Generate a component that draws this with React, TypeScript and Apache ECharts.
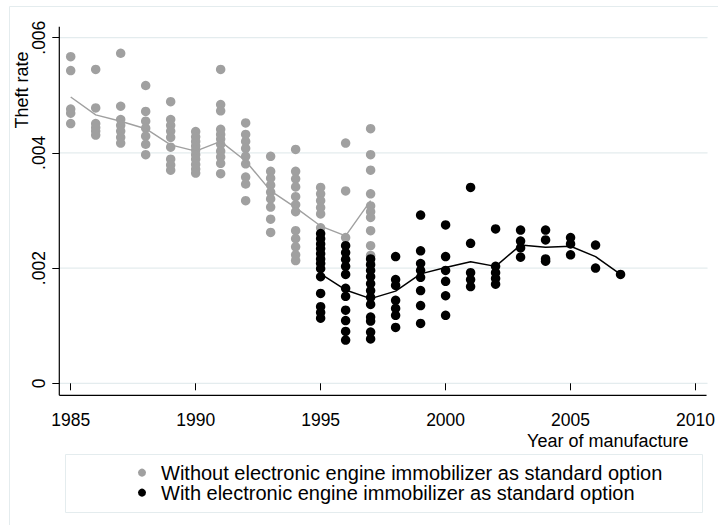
import React, { useEffect, useRef } from "react";
import * as echarts from "echarts";

const FONT = "'Liberation Sans', Arial, sans-serif";
const GRAY = "#a0a0a0";
const BLACK = "#000000";
const FAINT = "#e4ecee";

const xTicks = [1985, 1990, 1995, 2000, 2005, 2010];
const yTicks = [0, 0.002, 0.004, 0.006];

const withoutYears = [1985, 1986, 1987, 1988, 1989, 1990, 1991, 1992, 1993, 1994, 1995, 1996, 1997];
const withoutRates = [
  [0.00567, 0.00543, 0.00476, 0.00469, 0.00451],
  [0.00545, 0.00478, 0.00451, 0.00444, 0.00438, 0.00431],
  [0.00573, 0.00481, 0.00458, 0.00448, 0.00438, 0.00427, 0.00417],
  [0.00517, 0.00472, 0.00455, 0.00443, 0.00429, 0.00415, 0.00397],
  [0.00489, 0.00458, 0.00448, 0.00438, 0.00427, 0.0041, 0.00389, 0.00379, 0.0037],
  [0.00437, 0.00428, 0.0042, 0.00412, 0.00405, 0.00397, 0.00389, 0.0038, 0.00372, 0.00365],
  [0.00545, 0.00484, 0.00473, 0.00441, 0.00432, 0.00424, 0.00415, 0.00403, 0.00393, 0.00382, 0.00364],
  [0.00452, 0.00432, 0.0042, 0.00408, 0.00394, 0.00381, 0.00358, 0.00346, 0.00317],
  [0.00394, 0.00368, 0.00356, 0.00344, 0.00332, 0.0032, 0.00306, 0.00285, 0.00262],
  [0.00406, 0.00368, 0.00355, 0.00341, 0.00324, 0.0031, 0.00298, 0.00265, 0.00251, 0.00237, 0.00223, 0.00213],
  [0.0034, 0.00329, 0.00317, 0.00305, 0.00294, 0.0027],
  [0.00417, 0.00334, 0.00253],
  [0.00442, 0.00397, 0.0037, 0.00329, 0.00308, 0.00298, 0.00288, 0.00265, 0.00239, 0.00222],
];
const withoutMean = [0.00497, 0.00466, 0.00455, 0.00442, 0.00414, 0.00403, 0.0042, 0.00386, 0.00334, 0.00305, 0.00273, 0.00256, 0.00317];

const withYears = [1995, 1996, 1997, 1998, 1999, 2000, 2001, 2002, 2003, 2004, 2005, 2006, 2007];
const withRates = [
  [0.0026, 0.00251, 0.00242, 0.00234, 0.00225, 0.00216, 0.00208, 0.00199, 0.00185, 0.00156, 0.00133, 0.00123, 0.00113],
  [0.00239, 0.00227, 0.00215, 0.00203, 0.00189, 0.00165, 0.00151, 0.00127, 0.00109, 0.0009, 0.00075],
  [0.00216, 0.00206, 0.00196, 0.00185, 0.00173, 0.00161, 0.00149, 0.00137, 0.00115, 0.00108, 0.00089, 0.00077],
  [0.0022, 0.0018, 0.0017, 0.00144, 0.0013, 0.00118, 0.00097],
  [0.00292, 0.0023, 0.00208, 0.00196, 0.00184, 0.00161, 0.00135, 0.00104],
  [0.00275, 0.0022, 0.00196, 0.00177, 0.00152, 0.00118],
  [0.0034, 0.00243, 0.00192, 0.0018, 0.00168],
  [0.00268, 0.00203, 0.00192, 0.00182, 0.00172],
  [0.00266, 0.00247, 0.00235, 0.00219],
  [0.00266, 0.00249, 0.00216, 0.00212],
  [0.00253, 0.00242, 0.00223],
  [0.0024, 0.002],
  [0.00189],
];
const withMean = [0.0019, 0.00162, 0.00147, 0.0016, 0.0019, 0.00201, 0.00211, 0.00203, 0.0024, 0.00236, 0.00238, 0.0022, 0.00189];

const nameWithout = "Without electronic engine immobilizer as standard option";
const nameWith = "With electronic engine immobilizer as standard option";

function points(years: number[], rates: number[][]) {
  const out: number[][] = [];
  years.forEach((y, i) => rates[i].forEach((r) => out.push([y, r])));
  return out;
}

export default function App() {
  const ref = useRef<HTMLDivElement>(null);
  useEffect(() => {
    if (!ref.current) return;
    const chart = echarts.init(ref.current, null, { renderer: "svg" });
    const option: any = {
      animation: false,
      backgroundColor: "#ffffff",
      textStyle: { fontFamily: FONT },
      grid: { left: 70.7, right: 21.3, top: 37.7, bottom: 141.7, containLabel: false },
      xAxis: {
        type: "value",
        min: xTicks[0],
        max: xTicks[xTicks.length - 1],
        interval: 5,
        offset: 12,
        axisLine: { show: false },
        axisTick: { show: true, length: 7, lineStyle: { color: "#000", width: 1 } },
        axisLabel: { fontSize: 17.5, color: "#000", fontFamily: FONT, margin: 15.5, formatter: (v: number) => String(v) },
        splitLine: { show: false },
      },
      yAxis: {
        type: "value",
        min: yTicks[0],
        max: yTicks[yTicks.length - 1],
        interval: 0.002,
        offset: 11.4,
        axisLine: { show: false },
        axisTick: { show: true, length: 7, lineStyle: { color: "#000", width: 1 } },
        axisLabel: {
          fontSize: 17.5,
          color: "#000",
          fontFamily: FONT,
          rotate: 90,
          margin: 11.5,
          formatter: (v: number) => (v === 0 ? "0" : v.toFixed(3).replace(/^0/, "")),
        },
        splitLine: { show: false },
      },
      legend: {
        orient: "vertical",
        left: 138,
        top: 462.6,
        itemWidth: 28,
        itemHeight: 8,
        itemGap: 0,
        icon: "circle",
        data: [nameWithout, nameWith],
        textStyle: { fontSize: 20, color: "#000", fontFamily: FONT, lineHeight: 19.4 },
        padding: 0,
      },
      series: [
        {
          name: nameWithout,
          type: "scatter",
          data: points(withoutYears, withoutRates),
          symbolSize: 9.5,
          itemStyle: { color: GRAY, opacity: 1 },
          z: 2,
        },
        {
          name: nameWith,
          type: "scatter",
          data: points(withYears, withRates),
          symbolSize: 9.5,
          itemStyle: { color: BLACK, opacity: 1 },
          z: 3,
        },
        {
          name: "withoutMean",
          type: "line",
          data: withoutYears.map((y, i) => [y, withoutMean[i]]),
          showSymbol: false,
          symbol: "none",
          lineStyle: { color: GRAY, width: 1.4 },
          itemStyle: { color: GRAY },
          z: 4,
        },
        {
          name: "withMean",
          type: "line",
          data: withYears.map((y, i) => [y, withMean[i]]),
          showSymbol: false,
          symbol: "none",
          lineStyle: { color: BLACK, width: 1.5 },
          itemStyle: { color: BLACK },
          z: 5,
        },
      ],
    };
    chart.setOption(option);

    const p0 = chart.convertToPixel({ gridIndex: 0 }, [xTicks[0], yTicks[0]]) as number[];
    const p1 = chart.convertToPixel({ gridIndex: 0 }, [xTicks[xTicks.length - 1], yTicks[yTicks.length - 1]]) as number[];
    const axX = p0[0] - 11.4;
    const axY = p0[1] + 12;
    const rightX = p1[0] + 11;
    const topY = p1[1] - 11;
    const graphics: any[] = [];
    graphics.push({
      type: "rect",
      shape: { x: 9.5, y: 6.5, width: 800, height: 600 },
      style: { fill: "none", stroke: FAINT, lineWidth: 1 },
      z: 0,
      silent: true,
    });
    yTicks.forEach((t) => {
      const py = (chart.convertToPixel({ gridIndex: 0 }, [xTicks[0], t]) as number[])[1];
      graphics.push({
        type: "line",
        shape: { x1: axX, y1: py, x2: rightX + 1, y2: py },
        style: { stroke: FAINT, lineWidth: 1.2 },
        z: 0,
        silent: true,
      });
    });
    graphics.push({
      type: "line",
      shape: { x1: axX, y1: topY, x2: axX, y2: axY },
      style: { stroke: "#000", lineWidth: 1.2 },
      z: 10,
      silent: true,
    });
    graphics.push({
      type: "line",
      shape: { x1: axX, y1: axY, x2: rightX, y2: axY },
      style: { stroke: "#000", lineWidth: 1.2 },
      z: 10,
      silent: true,
    });
    graphics.push({
      type: "text",
      x: 688.5,
      y: 441,
      style: { text: "Year of manufacture", fontSize: 18, fontFamily: FONT, fill: "#000", align: "right", verticalAlign: "middle" },
      z: 10,
    });
    graphics.push({
      type: "text",
      x: 22,
      y: 90,
      rotation: Math.PI / 2,
      style: { text: "Theft rate", fontSize: 18, fontFamily: FONT, fill: "#000", align: "center", verticalAlign: "middle" },
      z: 10,
    });
    graphics.push({
      type: "rect",
      shape: { x: 65.5, y: 454.5, width: 637, height: 58 },
      style: { fill: "none", stroke: FAINT, lineWidth: 1 },
      z: 0,
      silent: true,
    });
    chart.setOption({ graphic: graphics });
    return () => chart.dispose();
  }, []);
  return <div ref={ref} style={{ position: "fixed", left: 0, top: 0, width: 718, height: 525 }} />;
}
